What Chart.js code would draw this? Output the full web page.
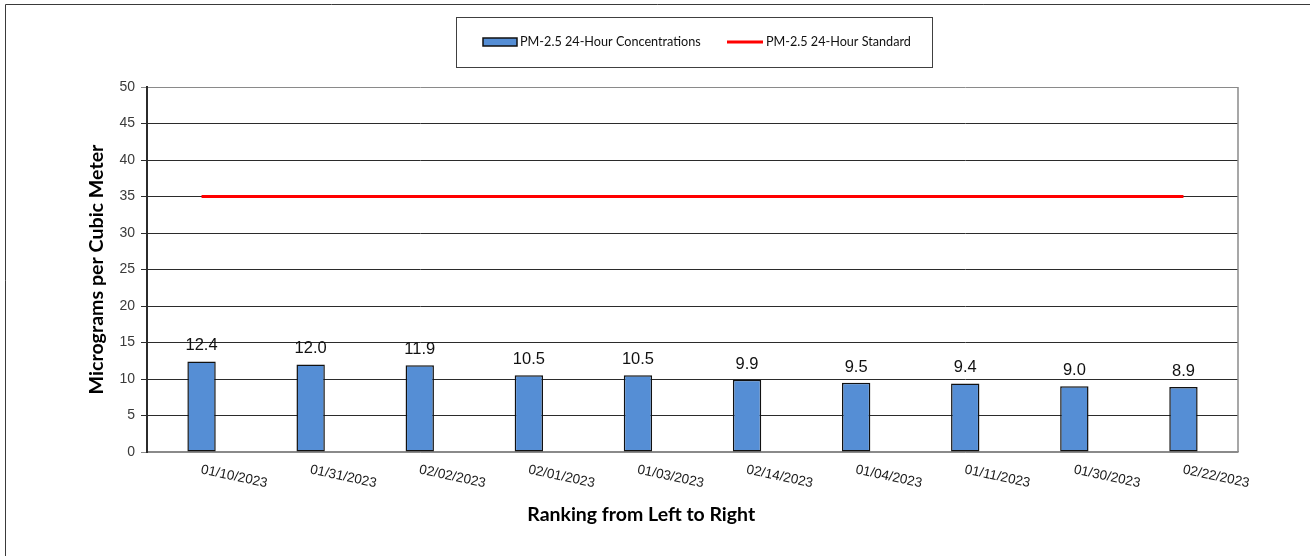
<!DOCTYPE html>
<html>
<head>
<meta charset="utf-8">
<title>PM-2.5 24-Hour Concentrations</title>
<script src="https://cdn.jsdelivr.net/npm/chart.js@4.4.1/dist/chart.umd.min.js"></script>
<style>
  html, body { margin: 0; padding: 0; background: #ffffff; overflow: hidden; }
  #wrap { position: absolute; left: 0; top: 0; width: 1310px; height: 556px; }
</style>
</head>
<body>
<div id="wrap"><canvas id="chart" width="1310" height="556"></canvas></div>
<script>
// Sample dates, ranked from highest to lowest concentration
const sampleDates = ['01/10/2023', '01/31/2023', '02/02/2023', '02/01/2023', '01/03/2023',
                     '02/14/2023', '01/04/2023', '01/11/2023', '01/30/2023', '02/22/2023'];
// 24-hour PM-2.5 concentrations (µg/m³)
const concentrations = [12.4, 12.0, 11.9, 10.5, 10.5, 9.9, 9.5, 9.4, 9.0, 8.9];
// 24-hour standard (µg/m³)
const standardValue = 35;
const standardLine = sampleDates.map(() => standardValue);
// Y-axis range
const yMin = 0, yMax = 50, yStep = 5;

const seriesNames = ['PM-2.5 24-Hour Concentrations', 'PM-2.5 24-Hour Standard'];
const axisTitleX = 'Ranking from Left to Right';
const axisTitleY = 'Micrograms per Cubic Meter';

const BAR_FILL = '#558ED5';
const STD_RED = '#FF0000';
const GRID_DARK = '#2b2b2b';
const FRAME_GRAY = '#8a8a8a';

function fitFont(ctx, text, weight, family, targetWidth) {
  ctx.font = weight + ' 20px ' + family;
  const w = ctx.measureText(text).width;
  return 20 * targetWidth / w;
}

const decorPlugin = {
  id: 'decor',
  beforeDraw(chart) {
    const ctx = chart.ctx;
    ctx.save();
    ctx.fillStyle = '#ffffff';
    ctx.fillRect(0, 0, chart.width, chart.height);
    // outer frame (left and top edges)
    ctx.strokeStyle = '#3a3a3a';
    ctx.lineWidth = 1;
    ctx.beginPath();
    ctx.moveTo(5.5, chart.height);
    ctx.lineTo(5.5, 4.5);
    ctx.lineTo(chart.width, 4.5);
    ctx.stroke();
    ctx.restore();
  },
  afterDatasetsDraw(chart) {
    const ctx = chart.ctx;
    const area = chart.chartArea;
    const xs = chart.scales.x;
    ctx.save();

    // right edge of plot area
    ctx.strokeStyle = FRAME_GRAY;
    ctx.lineWidth = 1.5;
    ctx.beginPath();
    ctx.moveTo(area.right, area.top);
    ctx.lineTo(area.right, area.bottom);
    ctx.stroke();

    // value labels above bars
    const barMeta = chart.getDatasetMeta(0);
    ctx.fillStyle = '#111111';
    ctx.font = '16.5px "Liberation Sans", Arial, sans-serif';
    ctx.textAlign = 'center';
    ctx.textBaseline = 'alphabetic';
    barMeta.data.forEach((el, i) => {
      const v = chart.data.datasets[0].data[i];
      ctx.fillText(v.toFixed(1), el.x, el.y - 11);
    });

    // slanted category labels
    ctx.fillStyle = '#1a1a1a';
    ctx.font = '13.5px "Liberation Sans", Arial, sans-serif';
    ctx.textAlign = 'left';
    ctx.textBaseline = 'top';
    chart.data.labels.forEach((lab, i) => {
      const x = xs.getPixelForTick(i) + 1;
      const y = area.bottom + 11;
      ctx.save();
      ctx.translate(x, y);
      ctx.rotate(12 * Math.PI / 180);
      ctx.fillText(lab, 0, 0);
      ctx.restore();
    });

    // x-axis title
    ctx.fillStyle = '#000000';
    const fx = fitFont(ctx, axisTitleX, 'bold', 'Lato, sans-serif', 228);
    ctx.font = 'bold ' + fx.toFixed(2) + 'px Lato, sans-serif';
    ctx.textAlign = 'center';
    ctx.textBaseline = 'middle';
    ctx.fillText(axisTitleX, area.left + (area.right - area.left) * 0.453, 515);

    // y-axis title
    const fy = fitFont(ctx, axisTitleY, 'bold', 'Lato, sans-serif', 250);
    ctx.font = 'bold ' + fy.toFixed(2) + 'px Lato, sans-serif';
    ctx.save();
    ctx.translate(97, (area.top + area.bottom) / 2);
    ctx.rotate(-Math.PI / 2);
    ctx.fillText(axisTitleY, 0, 0);
    ctx.restore();

    // legend box
    const lx = 456.5, ly = 17.5, lw = 476, lh = 50;
    ctx.strokeStyle = '#404040';
    ctx.lineWidth = 1;
    ctx.strokeRect(lx, ly, lw, lh);
    const cy = 42;
    const ds0 = chart.data.datasets[0], ds1 = chart.data.datasets[1];
    ctx.fillStyle = ds0.backgroundColor;
    ctx.fillRect(483, cy - 4, 34, 8);
    ctx.strokeStyle = '#111111';
    ctx.lineWidth = 1.5;
    ctx.strokeRect(483, cy - 4, 34, 8);
    ctx.fillStyle = '#111111';
    ctx.textAlign = 'left';
    ctx.textBaseline = 'middle';
    ctx.font = fitFont(ctx, ds0.label, 'normal', 'Lato, sans-serif', 181).toFixed(2) + 'px Lato, sans-serif';
    ctx.fillText(ds0.label, 520, cy);
    ctx.strokeStyle = ds1.borderColor;
    ctx.lineWidth = 3;
    ctx.beginPath();
    ctx.moveTo(727, cy);
    ctx.lineTo(763, cy);
    ctx.stroke();
    ctx.font = fitFont(ctx, ds1.label, 'normal', 'Lato, sans-serif', 145).toFixed(2) + 'px Lato, sans-serif';
    ctx.fillText(ds1.label, 766, cy);

    ctx.restore();
  }
};

new Chart(document.getElementById('chart'), {
  type: 'bar',
  data: {
    labels: sampleDates,
    datasets: [
      {
        type: 'bar',
        label: seriesNames[0],
        data: concentrations,
        backgroundColor: BAR_FILL,
        borderColor: '#111111',
        borderWidth: 1.5,
        borderSkipped: false,
        barPercentage: 0.26,
        categoryPercentage: 1.0,
        order: 2
      },
      {
        type: 'line',
        label: seriesNames[1],
        data: standardLine,
        borderColor: STD_RED,
        backgroundColor: STD_RED,
        borderWidth: 3,
        pointRadius: 0,
        fill: false,
        order: 1
      }
    ]
  },
  options: {
    responsive: false,
    animation: false,
    devicePixelRatio: 1,
    layout: { padding: { top: 87, right: 72, left: 0, bottom: 0 } },
    plugins: {
      legend: { display: false },
      tooltip: { enabled: false },
      title: { display: false }
    },
    scales: {
      x: {
        ticks: { display: false },
        grid: { display: false, drawTicks: false },
        border: { display: true, color: FRAME_GRAY, width: 1.5 },
        afterFit(scale) { scale.height = 104; }
      },
      y: {
        min: yMin,
        max: yMax,
        ticks: {
          stepSize: yStep,
          color: '#3a3a3a',
          padding: 6,
          font: { family: '"Liberation Sans", Arial, sans-serif', size: 14 }
        },
        grid: {
          color: (c) => (c.tick && (c.tick.value === yMax || c.tick.value === yMin)) ? FRAME_GRAY : GRID_DARK,
          lineWidth: 1,
          tickLength: 6,
          drawTicks: true
        },
        border: { display: true, color: '#2b2b2b', width: 2 },
        afterFit(scale) { scale.width = 147; }
      }
    }
  },
  plugins: [decorPlugin]
});
</script>
</body>
</html>
